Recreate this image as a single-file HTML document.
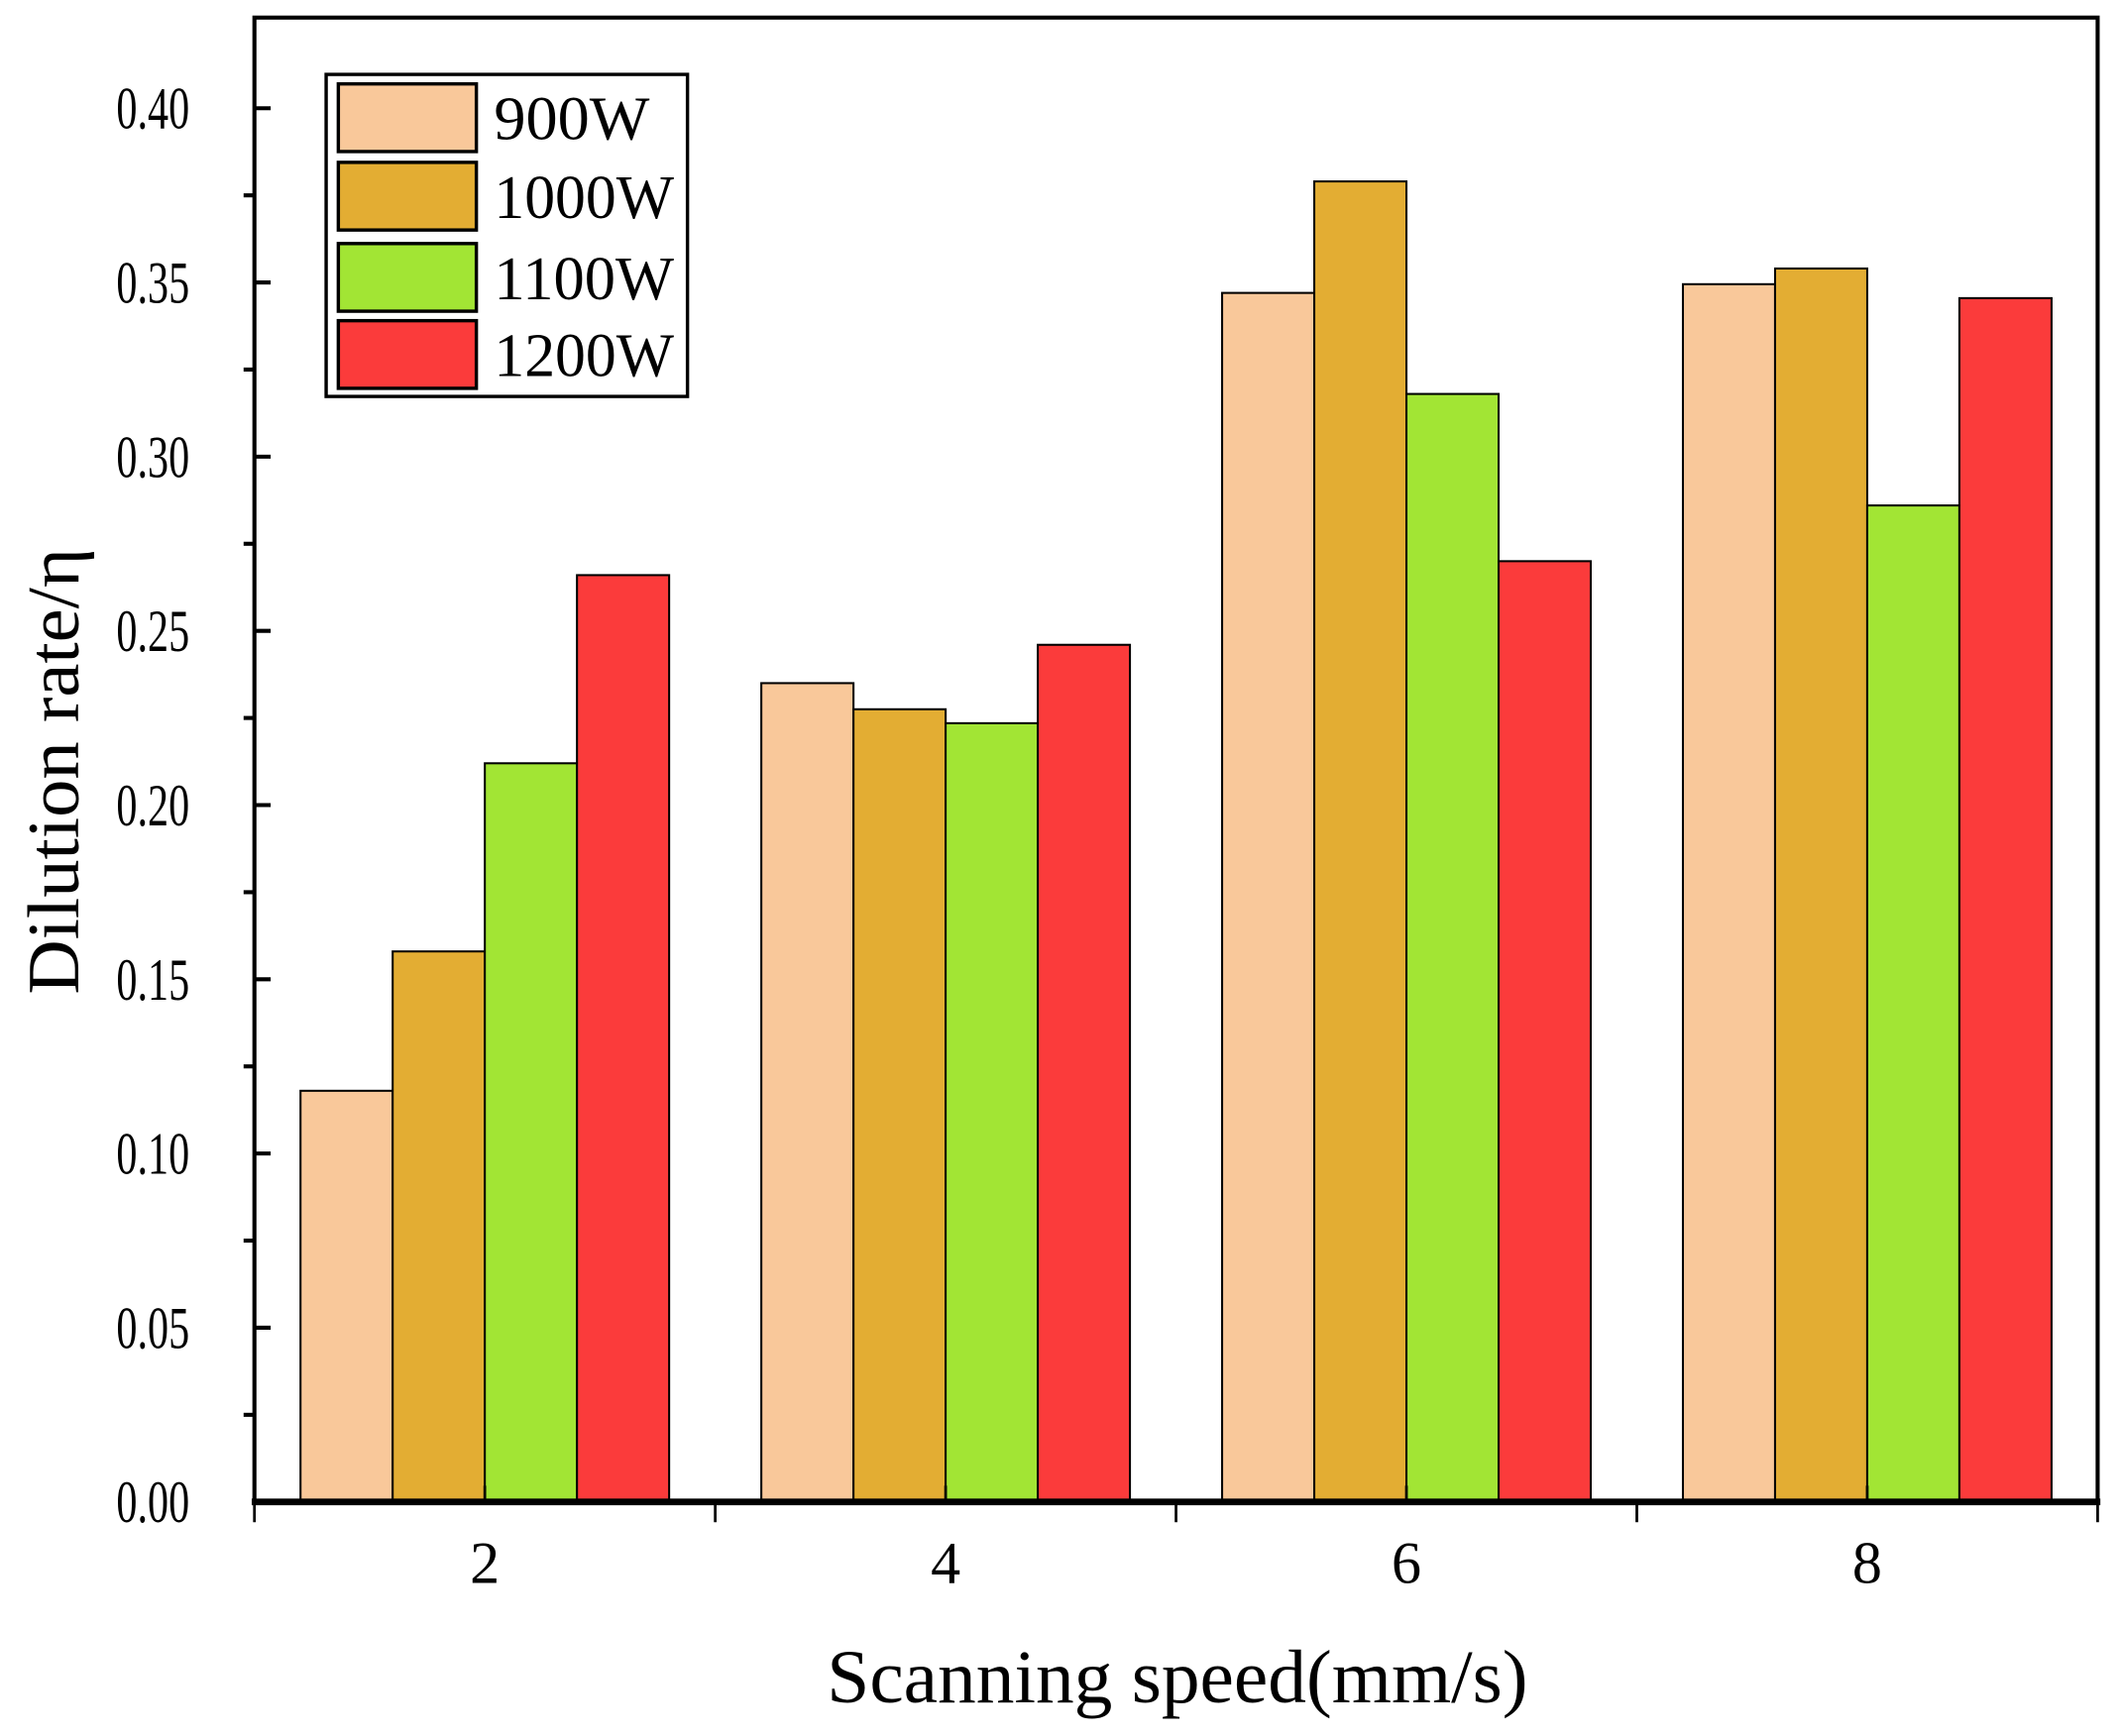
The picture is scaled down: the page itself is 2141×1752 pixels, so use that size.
<!DOCTYPE html>
<html><head><meta charset="utf-8"><style>html,body{margin:0;padding:0;background:#fff}svg{display:block}text{font-family:"Liberation Serif",serif;fill:#000}</style></head>
<body>
<svg id="chart" width="2141" height="1752" viewBox="0 0 1568 1283" preserveAspectRatio="none" xmlns="http://www.w3.org/2000/svg">
<g id="bars"></g>
<g id="axes"></g>
<g id="legend"></g>
</svg>
<script>
const categories = [2, 4, 6, 8];
const seriesNames = ["900W", "1000W", "1100W", "1200W"];
const s900 = [0.118, 0.235, 0.347, 0.3495];
const s1000 = [0.158, 0.2275, 0.379, 0.354];
const s1100 = [0.212, 0.2235, 0.318, 0.286];
const s1200 = [0.266, 0.246, 0.270, 0.3455];
const yTicks = [0.00, 0.05, 0.10, 0.15, 0.20, 0.25, 0.30, 0.35, 0.40];
const yTickLabels = ["0.00", "0.05", "0.10", "0.15", "0.20", "0.25", "0.30", "0.35", "0.40"];

const series = [s900, s1000, s1100, s1200];
const colors = ["#f9c89a", "#e3ad33", "#a2e534", "#fb3b3b"];
const NS = "http://www.w3.org/2000/svg";
const L = 188, R = 1550, T = 13, B = 1110;
const xMin = 1, xMax = 9, yMin = 0, yMax = 0.4 * (B - T) / (B - 80);
const xs = v => L + (v - xMin) / (xMax - xMin) * (R - L);
const ys = v => B - (v - yMin) / (yMax - yMin) * (B - T);
function mk(tag, attrs, parent) { const e = document.createElementNS(NS, tag); for (const k in attrs) e.setAttribute(k, attrs[k]); parent.appendChild(e); return e; }
const bars = document.getElementById("bars"), axes = document.getElementById("axes"), legend = document.getElementById("legend");
const barW = 0.4;
series.forEach((s, si) => {
  s.forEach((v, ci) => {
    const x0 = xs(categories[ci] - 0.8 + si * barW), x1 = xs(categories[ci] - 0.8 + (si + 1) * barW);
    const r = mk("rect", {x: x0, y: ys(v), width: x1 - x0, height: ys(0) - ys(v), fill: colors[si], stroke: "#000", "stroke-width": 1.5}, bars);
    
    
  });
});
// frame
const fr = mk("rect", {x: L, y: T, width: R - L, height: B - T, fill: "none", stroke: "#000", "stroke-width": 3}, axes);


mk("line", {x1: L - 2, y1: B, x2: R + 2, y2: B, stroke: "#000", "stroke-width": 5}, axes);
// y ticks
yTicks.forEach((v, i) => {
  mk("line", {x1: L, y1: ys(v), x2: L + 12, y2: ys(v), stroke: "#000", "stroke-width": 3}, axes);
  const t = mk("text", {x: 140, y: ys(v) + 15, "text-anchor": "end", "font-size": 44, textLength: 54, lengthAdjust: "spacingAndGlyphs"}, axes);
  t.textContent = yTickLabels[i];
  
  
  if (i < yTicks.length - 1) mk("line", {x1: L - 8, y1: ys(v + 0.025), x2: L, y2: ys(v + 0.025), stroke: "#000", "stroke-width": 3}, axes);
});
// x ticks
categories.forEach(c => {
  mk("line", {x1: xs(c), y1: B, x2: xs(c), y2: B - 12, stroke: "#000", "stroke-width": 2}, axes);
  const t = mk("text", {x: xs(c), y: 1170, "text-anchor": "middle", "font-size": 44}, axes);
  t.textContent = c;
  
  
});
[1, 3, 5, 7, 9].forEach(v => mk("line", {x1: xs(v), y1: B, x2: xs(v), y2: B + 15, stroke: "#000", "stroke-width": 2}, axes));
const xt = mk("text", {x: 870, y: 1258, "text-anchor": "middle", "font-size": 56, textLength: 518, lengthAdjust: "spacingAndGlyphs"}, axes);
xt.textContent = "Scanning speed(mm/s)";


const yt = mk("text", {x: 0, y: 0, "text-anchor": "middle", "font-size": 54, textLength: 330, lengthAdjust: "spacingAndGlyphs", transform: "translate(58,570) rotate(-90)"}, axes);
yt.textContent = "Dilution rate/η";


// legend
const lb = mk("rect", {x: 241, y: 55, width: 267, height: 238, fill: "#fff", stroke: "#000", "stroke-width": 2.5}, legend);


const rowY = [62, 120, 180, 237];
seriesNames.forEach((n, i) => {
  const sw = mk("rect", {x: 250, y: rowY[i], width: 102, height: 50, fill: colors[i], stroke: "#000", "stroke-width": 2.5}, legend);
  
  
  const t = mk("text", {x: 365, y: rowY[i] + 41, "font-size": 46, textLength: (n.length === 4 ? 115 : 133), lengthAdjust: "spacingAndGlyphs"}, legend);
  t.textContent = n;
  
  
});
</script>
</body></html>
